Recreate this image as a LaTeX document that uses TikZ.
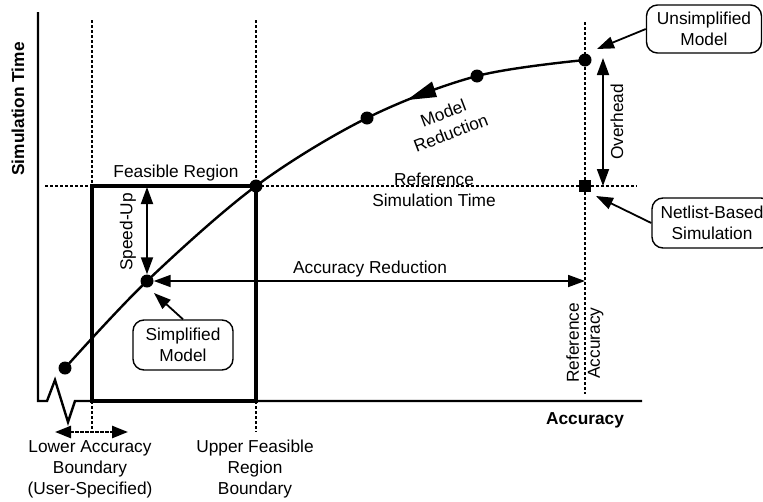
\documentclass[tikz,border=0pt]{standalone}
\usepackage{fontspec}
\setmainfont{Liberation Sans}
\usetikzlibrary{arrows.meta}
\begin{document}
\begin{tikzpicture}[x=1pt,y=-1pt,
  font=\fontsize{17.3}{21}\selectfont,
  dot/.style={circle,fill,inner sep=0pt,minimum size=13pt},
  sqmark/.style={rectangle,fill,inner sep=0pt,minimum size=12.5pt},
  axis/.style={line width=2.4pt},
  dotline/.style={line width=2.5pt,dash pattern=on 3.2pt off 1.8pt},
  feas/.style={line width=3.4pt},
  curveline/.style={line width=2.4pt},
  dbl/.style={line width=1.8pt,{Triangle[length=17pt,width=12pt]}-{Triangle[length=17pt,width=12pt]}},
  ptr/.style={line width=1.8pt,-{Triangle[length=17pt,width=12pt]}},
  callout/.style={draw,line width=1.4pt,rounded corners=11pt,align=center,inner sep=2pt},
  lab/.style={align=center,inner sep=0pt},
  boldlab/.style={inner sep=0pt,font=\fontsize{17.3}{21}\selectfont\bfseries}
]
\clip (0,0) rectangle (763,501);

% axes
\draw[axis] (38,12) -- (38,401) -- (47,401) -- (55,380) -- (68,422) -- (75,401) -- (642,401);

% dotted guide lines
\draw[dotline] (92,20) -- (92,185);
\draw[dotline] (256,20) -- (256,185);
\draw[dotline] (45,186) -- (92,186);
\draw[dotline] (256,186) -- (637,186);
\draw[dotline] (585,22) -- (585,394);
\draw[dotline] (92,401) -- (92,432);
\draw[dotline] (256,401) -- (256,432);

% feasible region
\draw[feas] (92,186) rectangle (256,401);

% lower accuracy boundary arrow
\coordinate (lowL) at (55,432);
\coordinate (lowR) at (128,432);
\draw[dotline,{Triangle[length=16pt,width=12pt]}-{Triangle[length=16pt,width=12pt]}] (lowL) -- (lowR);

% curve points
\node[dot] (d1) at (65,368) {};
\node[dot] (d2) at (147,281) {};
\node[dot] (d3) at (256,186) {};
\node[dot] (d4) at (367,118) {};
\node[dot] (d5) at (477,76) {};
\node[dot] (d6) at (585,60) {};
\node[sqmark] (sq) at (585,186) {};

\draw[curveline] plot[smooth,tension=0.55] coordinates {(d1.center) (d2.center) (d3.center) (d4.center) (d5.center) (d6.center)};
\fill (407,100) -- (432,81.5) -- (437,97) -- cycle;

% arrows
\coordinate (su) at (147,187);
\draw[dbl] (su) -- (d2.north);
\coordinate (ra) at (585,281);
\draw[dbl] (d2.east) -- (ra);
\coordinate (oht) at (603,58);
\coordinate (ohb) at (603,186);
\draw[dbl] (oht) -- (ohb);

% callouts
\node[callout,minimum width=115pt,minimum height=48pt] (ub) at (704,29) {Unsimplified\\Model};
\node[callout,minimum width=120pt,minimum height=50pt] (nb) at (712,223) {Netlist-Based\\Simulation};
\node[callout,minimum width=100pt,minimum height=50pt] (sm) at (183,345) {Simplified\\Model};
\coordinate (up) at (597,49);
\draw[ptr] (ub.west) -- (up);
\coordinate (np) at (596,196);
\draw[ptr] (nb.west) -- (np);
\coordinate (sp) at (154,293);
\draw[ptr] (sm.north) -- (sp);

% labels
\node[lab] (fr) at (176,173) {Feasible Region};
\node[lab] (rst) at (434,190) {Reference\\Simulation Time};
\node[lab,rotate=21] (mr) at (447,123) {Model\\Reduction};
\node[lab,rotate=90] (spu) at (128,232) {Speed-Up};
\node[lab,rotate=90] (ovh) at (617,122) {Overhead};
\node[lab] (ar) at (370,269) {Accuracy Reduction};
\node[lab,rotate=90] (rac) at (585,343) {Reference\\Accuracy};
\node[boldlab] (xl) at (585,420) {Accuracy};
\node[boldlab,rotate=90] (yl) at (18,109) {Simulation Time};
\node[lab] (lab1) at (90,469) {Lower Accuracy\\Boundary\\(User-Specified)};
\node[lab] (lab2) at (255,469) {Upper Feasible\\Region\\Boundary};
\end{tikzpicture}
\end{document}
